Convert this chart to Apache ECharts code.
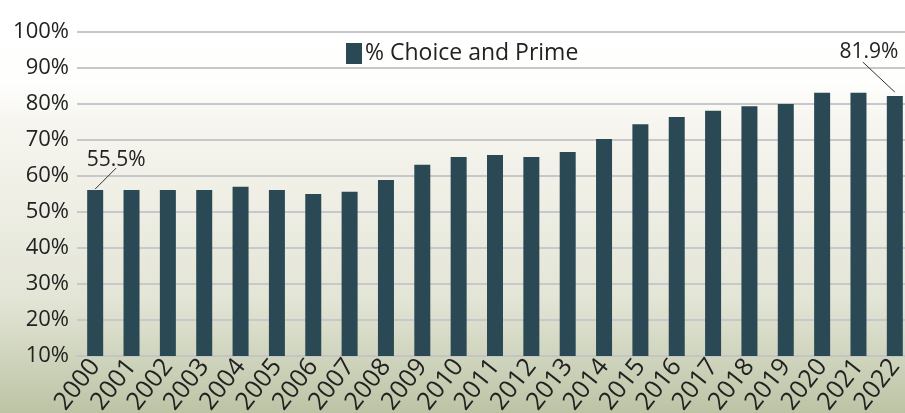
<!DOCTYPE html>
<html>
<head>
<meta charset="utf-8">
<script src="https://cdn.jsdelivr.net/npm/echarts@6/dist/echarts.min.js"></script>
<style>
html,body{margin:0;padding:0;}
#chart{width:905px;height:413px;}
</style>
</head>
<body>
<div id="chart"></div>
<script>
const years = ['2000','2001','2002','2003','2004','2005','2006','2007','2008','2009','2010','2011','2012','2013','2014','2015','2016','2017','2018','2019','2020','2021','2022'];
const choicePrime = [56.1,56.1,56.1,56.1,57.0,56.1,55.0,55.6,58.9,63.1,65.3,65.8,65.3,66.7,70.3,74.4,76.4,78.1,79.4,80.0,83.1,83.1,82.2];
const seriesName = '% Choice and Prime';
const annotYears = ['2000','2022'];
const annotTexts = ['55.5%','81.9%'];

const FONT = '"Open Sans", "Noto Sans", sans-serif';
const chart = echarts.init(document.getElementById('chart'));
chart.setOption({
  backgroundColor: {
    type: 'linear', x: 0, y: 0, x2: 0, y2: 1,
    colorStops: [
      {offset: 0, color: '#ffffff'},
      {offset: 0.2, color: '#fefefd'},
      {offset: 0.3, color: '#f6f5ef'},
      {offset: 0.5, color: '#eeeee4'},
      {offset: 0.72, color: '#e3e5d6'},
      {offset: 0.86, color: '#d0d5be'},
      {offset: 1, color: '#bcc3a5'}
    ]
  },
  animation: false,
  textStyle: {fontFamily: FONT},
  legend: {
    data: [seriesName],
    left: 341, top: 37,
    icon: 'rect', itemWidth: 16, itemHeight: 21, itemGap: 5,
    textStyle: {fontFamily: FONT, fontSize: 23, color: '#222', padding: [0,0,0,-2]}
  },
  grid: {left: 77, right: -8, top: 32, bottom: 57, containLabel: false, outerBoundsMode: 'none'},
  xAxis: {
    type: 'category', data: years,
    axisLine: {lineStyle: {color: '#c4c4c8', width: 2}},
    axisTick: {show: false},
    axisLabel: {rotate: 52, fontSize: 25, color: '#222', margin: 6, fontFamily: FONT, interval: 0}
  },
  yAxis: {
    type: 'value', min: 10, max: 100, interval: 10,
    axisLine: {show: false}, axisTick: {show: false},
    axisLabel: {formatter: '{value}%', fontSize: 22, color: '#222', margin: 8, fontFamily: FONT},
    splitLine: {lineStyle: {color: '#c8c8cc', width: 2}}
  },
  series: [{
    name: seriesName, type: 'bar', data: choicePrime,
    barWidth: 16,
    itemStyle: {color: '#2b4954'}
  }]
});

// annotations positioned from data
const annotStyle = {
  '2000': {lx: 21, ly: -21, tx: 21, ty: -19, align: 'center'},
  '2022': {lx: -32, ly: -30, tx: -26, ty: -30, align: 'center'}
};
const graphics = [];
annotYears.forEach((yr, i) => {
  const idx = years.indexOf(yr);
  const p = chart.convertToPixel({gridIndex: 0}, [idx, choicePrime[idx]]);
  const s = annotStyle[yr];
  const x0 = p[0], y0 = p[1] - (yr === '2022' ? 4 : 1);
  graphics.push({
    type: 'line', silent: true,
    shape: {x1: x0, y1: y0, x2: x0 + s.lx, y2: y0 + s.ly},
    style: {stroke: '#333', lineWidth: 1}
  });
  graphics.push({
    type: 'text', silent: true,
    x: x0 + s.tx, y: y0 + s.ty,
    style: {text: annotTexts[i], fontSize: 21, fontFamily: FONT, fill: '#222', align: s.align, verticalAlign: 'bottom'}
  });
});
chart.setOption({graphic: graphics});
</script>
</body>
</html>
